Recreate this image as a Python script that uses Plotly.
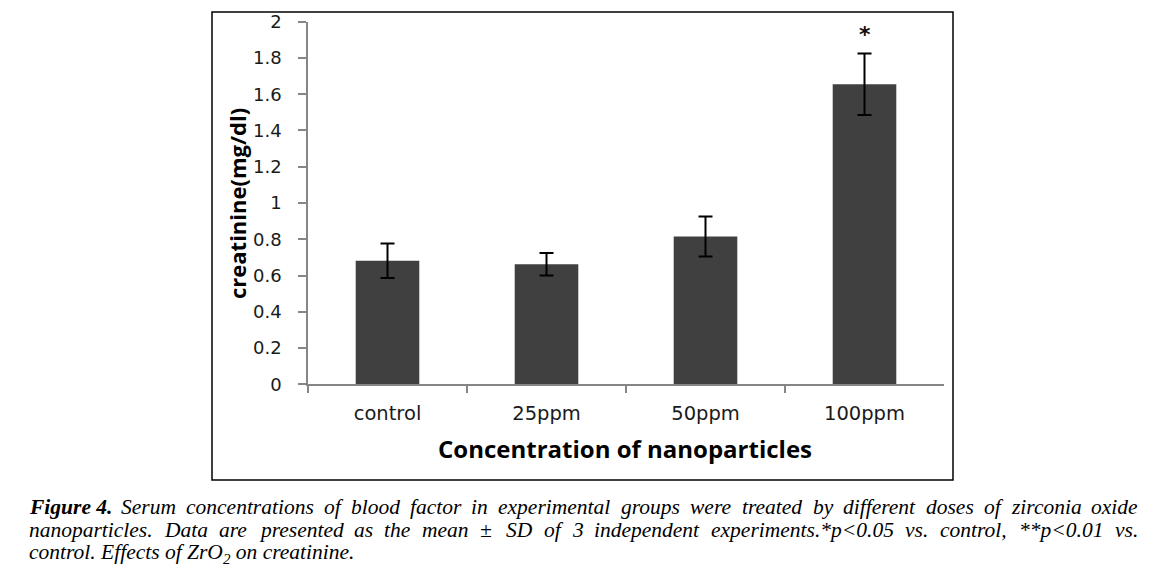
import plotly.graph_objects as go

categories = ["control", "25ppm", "50ppm", "100ppm"]
means = [0.682, 0.662, 0.815, 1.655]
sds = [0.095, 0.062, 0.11, 0.17]
y_ticks = [0, 0.2, 0.4, 0.6, 0.8, 1, 1.2, 1.4, 1.6, 1.8, 2]
y_tick_text = ["0", "0.2", "0.4", "0.6", "0.8", "1", "1.2", "1.4", "1.6", "1.8", "2"]
sig_marks = ["", "", "", "*"]
sig_y = 1.93
x_title = "Concentration of nanoparticles"
y_title = "creatinine(mg/dl)"
caption_lines = [
    "Figure 4. Serum concentrations of blood factor in experimental groups were treated by different doses of zirconia oxide",
    "nanoparticles. Data are presented as the mean ± SD of 3 independent experiments.*p<0.05 vs. control, **p<0.01 vs.",
    "control. Effects of ZrO2 on creatinine.",
]

# the page body has an 8px margin: size the figure so the page fits the window
OFF = 8
W, H = 1169 - 2 * OFF, 586 - 2 * OFF


def px(x):
    return (x - OFF) / W


def py(y):
    return (H - (y - OFF)) / H


fig = go.Figure()
fig.add_trace(go.Bar(
    x=categories, y=means,
    marker=dict(color="#404040", line=dict(width=0)),
    width=0.4,
    error_y=dict(type="data", array=sds, visible=True, color="black", thickness=2, width=7),
    showlegend=False,
))

fig.update_layout(
    width=W, height=H,
    margin=dict(l=0, r=0, t=0, b=0, autoexpand=False),
    paper_bgcolor="white", plot_bgcolor="white",
    xaxis=dict(
        domain=[px(308), px(944)],
        range=[-0.5, 3.5], automargin=False,
        showline=True, linecolor="#868686", linewidth=1.5,
        ticks="outside", tickson="boundaries", ticklen=7, tickcolor="#868686", tickwidth=1.5,
        tickfont=dict(family="DejaVu Sans", size=19.5, color="#1a1a1a"),
        showgrid=False, ticklabelstandoff=11,
    ),
    yaxis=dict(
        domain=[py(384.3), py(21.7)],
        range=[0, 2], automargin=False,
        tickvals=y_ticks, ticktext=y_tick_text,
        showline=True, linecolor="#868686", linewidth=1.5,
        ticks="outside", ticklen=8, tickcolor="#868686", tickwidth=1.5,
        tickfont=dict(family="DejaVu Sans", size=18, color="#1a1a1a"),
        showgrid=False, zeroline=False, ticklabelstandoff=13,
    ),
)

# chart border
fig.add_shape(type="rect", xref="paper", yref="paper",
              x0=px(212), x1=px(953), y0=py(480), y1=py(12),
              line=dict(color="black", width=1.5))

# significance marks
for c, m in zip(categories, sig_marks):
    if m:
        fig.add_annotation(x=c, y=sig_y, text="<b>" + m + "</b>", showarrow=False,
                           xanchor="center", yanchor="middle",
                           font=dict(family="DejaVu Sans", size=22, color="#111111"))

# axis titles
fig.add_annotation(xref="paper", yref="paper", x=px(625), y=py(448),
                   text="<b>" + x_title + "</b>", showarrow=False,
                   xanchor="center", yanchor="middle",
                   font=dict(family="Open Sans", size=24, color="black"))
fig.add_annotation(xref="paper", yref="paper", x=px(237), y=py(204),
                   text="<b>" + y_title + "</b>", showarrow=False, textangle=-90,
                   xanchor="center", yanchor="middle",
                   font=dict(family="Open Sans", size=22, color="black"))

# ---- caption: justified lines, words laid out with Times-Italic advance widths ----
CAP_SIZE = 21.5
TI = {' ': 250, '!': 333, '*': 500, ',': 250, '.': 250, '/': 278, '<': 675, '±': 675,
      'A': 611, 'D': 722, 'E': 611, 'F': 611, 'S': 500, 'Z': 556, 'O': 722,
      'a': 500, 'b': 500, 'c': 444, 'd': 500, 'e': 444, 'f': 278, 'g': 500, 'h': 500,
      'i': 278, 'j': 278, 'k': 444, 'l': 278, 'm': 722, 'n': 500, 'o': 500, 'p': 500,
      'q': 500, 'r': 389, 's': 389, 't': 278, 'u': 500, 'v': 444, 'w': 667, 'x': 444,
      'y': 444, 'z': 389}
TBI = {'F': 667, 'i': 278, 'g': 500, 'u': 556, 'r': 389, 'e': 444, ' ': 250, '.': 250}


def text_w(s, table=TI):
    return sum(table.get(ch, 500) for ch in s) * CAP_SIZE / 1000.0


def esc(s):
    return s.replace("<", "&lt;")


cap_font = dict(family="Liberation Serif", size=CAP_SIZE, color="black")
x_left, x_right = 28, 1137
line_y = [507, 530, 553]


def add_word(html, xl, yc, font=cap_font):
    fig.add_annotation(xref="paper", yref="paper", x=px(xl), y=py(yc),
                       text=html, showarrow=False, xanchor="left", yanchor="middle",
                       font=font, borderpad=0)


for li, line in enumerate(caption_lines):
    yc = line_y[li]
    if li == len(caption_lines) - 1:
        html = "<i>" + esc(line).replace("ZrO2", "ZrO<sub>2</sub>") + "</i>"
        add_word(html, x_left, yc)
        continue
    words = line.split(" ")
    items = []
    if li == 0:
        items.append(("<b><i>Figure 4.</i></b>", text_w("Figure 4.", TBI)))
        words = words[2:]
    for w in words:
        items.append(("<i>" + esc(w) + "</i>", text_w(w)))
    total = sum(wd for _, wd in items)
    gap = (x_right - x_left - total) / (len(items) - 1)
    x = x_left
    for html, wd in items:
        add_word(html, x, yc)
        x += wd + gap

fig.write_html("out.html")
